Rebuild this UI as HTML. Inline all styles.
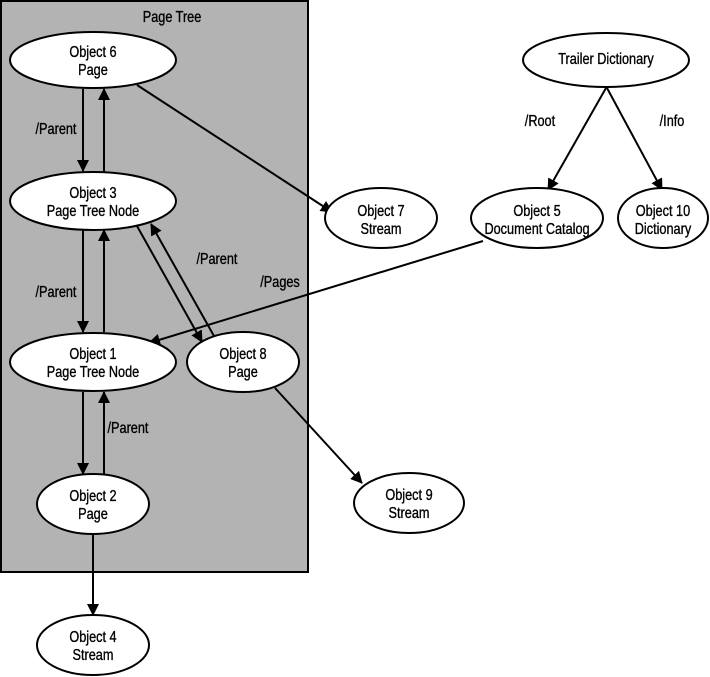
<!DOCTYPE html>
<html><head><meta charset="utf-8"><style>
html,body{margin:0;padding:0;background:#fff;}
svg{display:block;}
text{font-family:"Liberation Sans Narrow","Liberation Sans",sans-serif;font-size:15.5px;fill:#000;stroke:#000;stroke-width:0.35px;text-anchor:middle;}
</style></head><body>
<svg width="710" height="677" viewBox="0 0 710 677" xmlns="http://www.w3.org/2000/svg">
<defs>
<marker id="a" markerWidth="12" markerHeight="12" refX="11" refY="6" orient="auto" markerUnits="userSpaceOnUse">
<path d="M0,0 L12,6 L0,12 z" fill="#000"/>
</marker>
</defs>
<rect x="1" y="1" width="307" height="571" fill="#b3b3b3" stroke="#000" stroke-width="2"/>
<g stroke="#000" stroke-width="2" fill="none">
<line x1="83" y1="89" x2="83" y2="171" marker-end="url(#a)"/>
<line x1="104" y1="172" x2="104" y2="89" marker-end="url(#a)"/>
<line x1="83" y1="230" x2="83" y2="332" marker-end="url(#a)"/>
<line x1="104" y1="332" x2="104" y2="230" marker-end="url(#a)"/>
<line x1="83" y1="392" x2="83" y2="474" marker-end="url(#a)"/>
<line x1="104" y1="474" x2="104" y2="392" marker-end="url(#a)"/>
<line x1="93" y1="534" x2="93" y2="615" marker-end="url(#a)"/>
<line x1="137" y1="226" x2="202" y2="342" marker-end="url(#a)"/>
<line x1="214" y1="336" x2="151" y2="224" marker-end="url(#a)"/>
<line x1="483" y1="241" x2="149" y2="343" marker-end="url(#a)"/>
<line x1="137" y1="85" x2="332" y2="212" marker-end="url(#a)"/>
<line x1="275" y1="388" x2="362" y2="483" marker-end="url(#a)"/>
<line x1="606" y1="88" x2="548" y2="190" marker-end="url(#a)"/>
<line x1="607" y1="88" x2="662" y2="190" marker-end="url(#a)"/>
</g>
<g stroke="#000" stroke-width="2" fill="#fff">
<ellipse cx="93" cy="60" rx="83" ry="28"/>
<ellipse cx="93" cy="201" rx="83" ry="29"/>
<ellipse cx="93" cy="362" rx="83" ry="29"/>
<ellipse cx="93" cy="504" rx="56" ry="30"/>
<ellipse cx="93" cy="645" rx="56" ry="30"/>
<ellipse cx="243" cy="362" rx="56" ry="30"/>
<ellipse cx="381" cy="218" rx="56" ry="30"/>
<ellipse cx="409" cy="503" rx="55" ry="30"/>
<ellipse cx="606" cy="60" rx="83" ry="27"/>
<ellipse cx="537" cy="218" rx="66" ry="30"/>
<ellipse cx="663" cy="218" rx="45" ry="30"/>
</g>
<g transform="scale(0.82,1)">
<text x="209.8" y="22">Page Tree</text>
<text x="113.4" y="57">Object 6</text><text x="113.4" y="75">Page</text>
<text x="113.4" y="198">Object 3</text><text x="113.4" y="216">Page Tree Node</text>
<text x="113.4" y="359">Object 1</text><text x="113.4" y="377">Page Tree Node</text>
<text x="113.4" y="501">Object 2</text><text x="113.4" y="519">Page</text>
<text x="113.4" y="642">Object 4</text><text x="113.4" y="660">Stream</text>
<text x="296.3" y="359">Object 8</text><text x="296.3" y="377">Page</text>
<text x="464.6" y="216">Object 7</text><text x="464.6" y="234">Stream</text>
<text x="498.8" y="500">Object 9</text><text x="498.8" y="518">Stream</text>
<text x="739" y="64">Trailer Dictionary</text>
<text x="654.9" y="216">Object 5</text><text x="654.9" y="234">Document Catalog</text>
<text x="808.5" y="216">Object 10</text><text x="808.5" y="234">Dictionary</text>
<text x="68.3" y="134">/Parent</text>
<text x="68.3" y="297">/Parent</text>
<text x="156.1" y="433">/Parent</text>
<text x="264.6" y="264">/Parent</text>
<text x="341.5" y="287">/Pages</text>
<text x="658.5" y="126">/Root</text>
<text x="819.5" y="126">/Info</text>
</g>
</svg>
</body></html>
